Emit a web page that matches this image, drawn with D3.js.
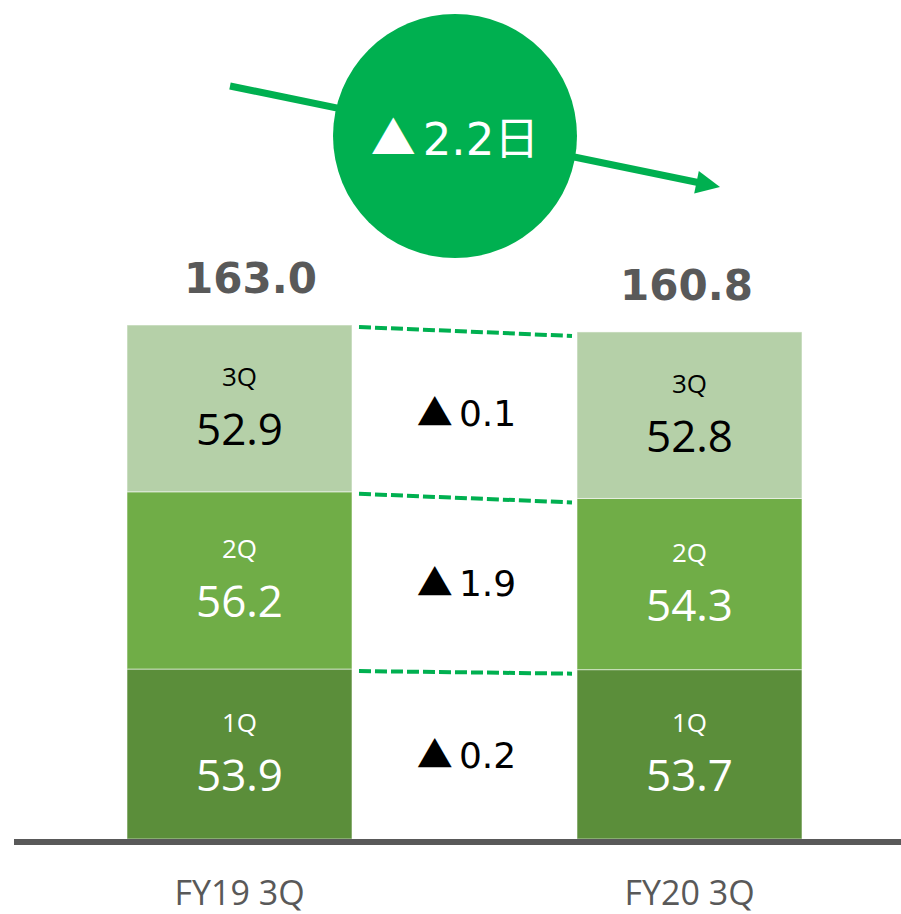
<!DOCTYPE html>
<html>
<head>
<meta charset="utf-8">
<script src="https://cdn.jsdelivr.net/npm/d3@7"></script>
<style>
  html, body { margin: 0; padding: 0; background: #ffffff; }
  svg { display: block; }
</style>
</head>
<body>
<div id="chart"></div>
<script>
// ---- data ----
const periods = ["FY19 3Q", "FY20 3Q"];
const quarters = ["1Q", "2Q", "3Q"];
const valuesFY19 = [53.9, 56.2, 52.9];
const valuesFY20 = [53.7, 54.3, 52.8];
const totals = [163.0, 160.8];
const diffValues = ["0.2", "1.9", "0.1"];
const changeValue = "2.2";
const changeUnit = "日";
const triangle = "▲";

// ---- layout ----
const W = 901, H = 914;
const baseY = 839;
const topY = 325;
const quarterColors = { "1Q": "#5b8e3a", "2Q": "#70ad47", "3Q": "#b5d0a8" };
const quarterText = { "1Q": "#ffffff", "2Q": "#ffffff", "3Q": "#000000" };
const green = "#00b050";
const gray = "#595959";
const cjk = "'Noto Sans CJK JP', 'Noto Sans CJK SC', sans-serif";

const svg = d3.select("#chart").append("svg")
  .attr("width", W).attr("height", H);

const x = d3.scaleBand().domain(periods)
  .range([14.5, 914.5]).paddingInner(0.5).paddingOuter(0.25);
const y = d3.scaleLinear().domain([0, d3.max(totals)]).range([baseY, topY]);

const seriesByPeriod = [valuesFY19, valuesFY20];
const stacked = periods.map((p, i) => {
  let cum = 0;
  return quarters.map((q, j) => {
    const v = seriesByPeriod[i][j];
    const d = { period: p, quarter: q, value: v, y0: cum, y1: cum + v };
    cum += v;
    return d;
  });
});
const allSegs = stacked.flat();

// ---- arrow + circle ----
const a0 = [230, 86], a1 = [720, 187];
const ang = Math.atan2(a1[1] - a0[1], a1[0] - a0[0]);
const headLen = 24, headW = 11.5;
const lineEnd = [a1[0] - Math.cos(ang) * (headLen - 4), a1[1] - Math.sin(ang) * (headLen - 4)];
svg.append("line")
  .attr("x1", a0[0]).attr("y1", a0[1])
  .attr("x2", lineEnd[0]).attr("y2", lineEnd[1])
  .attr("stroke", green).attr("stroke-width", 7);
const bx = a1[0] - Math.cos(ang) * headLen, by = a1[1] - Math.sin(ang) * headLen;
const px = -Math.sin(ang), py = Math.cos(ang);
svg.append("path")
  .attr("d", `M${a1[0]},${a1[1]} L${bx + px * headW},${by + py * headW} L${bx - px * headW},${by - py * headW} Z`)
  .attr("fill", green);

svg.append("circle")
  .attr("cx", 455).attr("cy", 136).attr("r", 122)
  .attr("fill", green);
const ct = svg.append("text")
  .attr("x", 455).attr("y", 155)
  .attr("text-anchor", "middle")
  .attr("font-family", "'DejaVu Sans', sans-serif")
  .attr("font-size", 45)
  .attr("fill", "#ffffff");
ct.append("tspan").attr("font-family", cjk).text(triangle);
ct.append("tspan").attr("dx", 7).text(changeValue);
ct.append("tspan").attr("font-family", cjk).text(changeUnit);

// ---- bars ----
svg.selectAll("rect.seg").data(allSegs).enter().append("rect")
  .attr("class", "seg")
  .attr("x", d => x(d.period))
  .attr("width", x.bandwidth())
  .attr("y", d => y(d.y1))
  .attr("height", d => y(d.y0) - y(d.y1))
  .attr("fill", d => quarterColors[d.quarter])
  .attr("stroke", "rgba(255,255,255,0.55)")
  .attr("stroke-width", 1);

// quarter name labels
svg.selectAll("text.qname").data(allSegs).enter().append("text")
  .attr("class", "qname")
  .attr("x", d => x(d.period) + x.bandwidth() / 2)
  .attr("y", d => (y(d.y0) + y(d.y1)) / 2 - 22)
  .attr("text-anchor", "middle")
  .attr("font-family", "'Open Sans', 'Noto Sans', sans-serif")
  .attr("font-size", 26)
  .attr("fill", d => quarterText[d.quarter])
  .text(d => d.quarter);

// value labels
svg.selectAll("text.qval").data(allSegs).enter().append("text")
  .attr("class", "qval")
  .attr("x", d => x(d.period) + x.bandwidth() / 2)
  .attr("y", d => (y(d.y0) + y(d.y1)) / 2 + 37)
  .attr("text-anchor", "middle")
  .attr("font-family", "'Open Sans', 'Noto Sans', sans-serif")
  .attr("font-size", 44)
  .attr("fill", d => quarterText[d.quarter])
  .text(d => d.value.toFixed(1));

// totals
svg.selectAll("text.total").data(periods).enter().append("text")
  .attr("class", "total")
  .attr("x", (p, i) => x(p) + x.bandwidth() / 2 + (i === 0 ? 11 : -3))
  .attr("y", (p, i) => y(totals[i]) - 32)
  .attr("text-anchor", "middle")
  .attr("font-family", "'DejaVu Sans', sans-serif")
  .attr("font-weight", "bold")
  .attr("font-size", 42)
  .attr("fill", gray)
  .text((p, i) => totals[i].toFixed(1));

// ---- dashed connectors ----
const xL = x(periods[0]) + x.bandwidth() + 7;
const xR = x(periods[1]) - 5;
svg.selectAll("line.conn").data(quarters).enter().append("line")
  .attr("class", "conn")
  .attr("x1", xL).attr("x2", xR)
  .attr("y1", (q, j) => y(stacked[0][j].y1) + 2)
  .attr("y2", (q, j) => y(stacked[1][j].y1) + 4)
  .attr("stroke", green)
  .attr("stroke-width", 4)
  .attr("stroke-dasharray", "12,4");

// difference labels
const diffG = svg.selectAll("text.diff").data(quarters).enter().append("text")
  .attr("class", "diff")
  .attr("x", (xL + xR) / 2 + 1)
  .attr("y", (q, j) => {
    const cL = (y(stacked[0][j].y0) + y(stacked[0][j].y1)) / 2;
    const cR = (y(stacked[1][j].y0) + y(stacked[1][j].y1)) / 2;
    return (cL + cR) / 2 + 14;
  })
  .attr("text-anchor", "middle")
  .attr("font-family", "'DejaVu Sans', sans-serif")
  .attr("font-size", 36)
  .attr("fill", "#000000");
diffG.append("tspan").attr("font-family", cjk).text(triangle);
diffG.append("tspan").attr("dx", 6).text((q, j) => diffValues[j]);

// ---- baseline + axis labels ----
svg.append("rect")
  .attr("x", 14).attr("y", baseY)
  .attr("width", W - 14).attr("height", 6)
  .attr("fill", gray);

const xAxis = d3.axisBottom(x).tickSize(0).tickPadding(0);
const axisG = svg.append("g")
  .attr("transform", `translate(0, ${baseY})`)
  .call(xAxis);
axisG.select(".domain").remove();
axisG.selectAll("text")
  .attr("y", 66)
  .attr("dy", 0)
  .attr("font-family", "'Open Sans', 'Noto Sans', sans-serif")
  .attr("font-size", 34)
  .attr("fill", gray);
</script>
</body>
</html>
